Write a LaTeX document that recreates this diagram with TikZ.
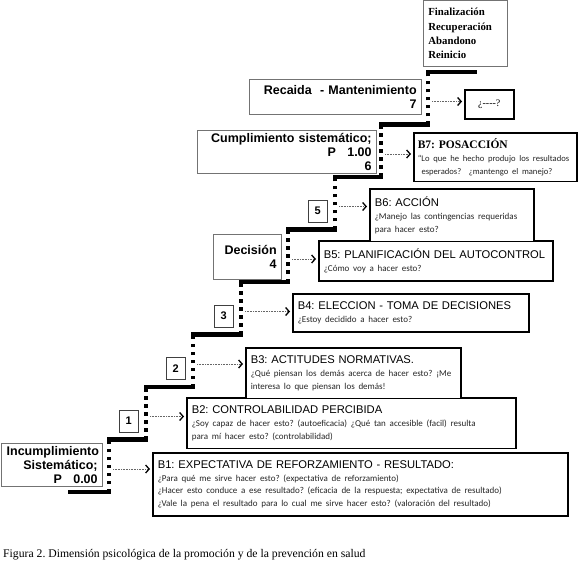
\documentclass[tikz,border=0pt]{standalone}
\usepackage{fontspec}
\setmainfont{Liberation Sans}
\newfontfamily\gillfont{Carlito}
\newfontfamily\romanfont{Liberation Serif}
\usetikzlibrary{arrows.meta,positioning}
\newcommand\qfont{\gillfont\fontsize{9}{12.5}\selectfont\color{black!85}}
\frenchspacing

\begin{document}
\begin{tikzpicture}[x=1pt, y=-1pt,
    stage/.style  = {draw=black!55, line width=0.7pt, fill=white, align=right,
                     inner xsep=5pt, inner ysep=3pt, font=\bfseries\fontsize{12.5}{14}\selectfont},
    numbox/.style = {draw=black!75, line width=0.7pt, fill=white, minimum width=19pt,
                     minimum height=22pt, inner sep=0pt, font=\bfseries\fontsize{11}{13}\selectfont},
    block/.style  = {draw=black, line width=1.6pt, fill=white, align=left, anchor=north west,
                     inner xsep=5pt, inner ysep=8pt, font=\fontsize{11.2}{13}\selectfont},
    tread/.style  = {line width=4.5pt, line cap=rect},
    riser/.style  = {line width=4pt, dash pattern=on 3.5pt off 4.5pt},
    pointer/.style = {draw=black!60, line width=0.6pt, densely dotted, shorten >=2pt,
                     -{Straight Barb[length=3.5pt, width=8pt, line width=1.3pt, black]}}]
    \useasboundingbox (0,0) rectangle (579,567);

    \foreach \xr [count=\k from 0] in {109,146,193,241,288,335,381,428}{
        \pgfmathsetmacro\ylo{492-52.5*\k}
        \coordinate (lo-\k)  at (\xr,\ylo);
        \coordinate (hi-\k)  at (\xr,\ylo-52.5);
        \coordinate (tap-\k) at (\xr+4,\ylo-23);
    }
    \coordinate (foot) at (70,492);
    \coordinate (head) at (475,72);

    \draw[tread] (foot) -- (lo-0);
    \foreach \k [evaluate=\k as \j using int(\k+1)] in {0,...,6}
        \draw[tread] (hi-\k) -- (lo-\j);
    \draw[tread] (hi-7) -- (head);
    \foreach \k in {0,...,7}
        \draw[riser] (lo-\k) -- (hi-\k);

    \node[stage, text width=91pt, anchor=south east]  (incumplimiento) at (103,487)
        {Incumplimiento\\Sistemático;\\P\hspace{0.9em}0.00};
    \node[stage, text width=58pt, minimum height=45pt, anchor=south east] (decision) at (282,280)
        {Decisión\\4};
    \node[stage, text width=169pt, anchor=south east] (cumplimiento) at (377,174)
        {Cumplimiento sistemático;\\P\hspace{0.9em}1.00\\6};
    \node[stage, text width=162pt, minimum height=35pt, anchor=south east] (recaida) at (422,115)
        {Recaida\ \ - Mantenimiento\\7};
    \node[stage, align=left, text width=74pt, minimum height=65.5pt, anchor=north west,
          font=\romanfont\bfseries\fontsize{10.8}{14.4}\selectfont] (cierre) at (423,0.5)
        {Finalización\\Recuperación\\Abandono\\Reinicio};

    \foreach \k in {1,2,3,5}
        \node[numbox, anchor=south east] (step_\k) at ([xshift=-7.5pt, yshift=7pt]lo-\k) {\k};

    \node[block, text width=405pt] (b_1) at (152,452)
        {B1: EXPECTATIVA DE REFORZAMIENTO - RESULTADO:\\
         \qfont ¿Para qué me sirve hacer esto? (expectativa de reforzamiento)\\
         ¿Hacer esto conduce a ese resultado? (eficacia de la respuesta; expectativa de resultado)\\
         ¿Vale la pena el resultado para lo cual me sirve hacer esto? (valoración del resultado)};
    \node[block, text width=319pt] (b_2) at (186,397)
        {B2: CONTROLABILIDAD PERCIBIDA\\
         \qfont ¿Soy capaz de hacer esto? (autoeficacia) ¿Qué tan accesible (facil) resulta\\
         para mí hacer esto? (controlabilidad)};
    \node[block, text width=205pt] (b_3) at (245,347)
        {B3: ACTITUDES NORMATIVAS.\\
         \qfont ¿Qué piensan los demás acerca de hacer esto? ¡Me\\
         interesa lo que piensan los demás!};
    \node[block, text width=226pt] (b_4) at (292,293)
        {B4: ELECCION - TOMA DE DECISIONES\\
         \qfont ¿Estoy decidido a hacer esto?};
    \node[block, text width=224pt] (b_5) at (318,240)
        {B5: PLANIFICACIÓN DEL AUTOCONTROL\\
         \qfont ¿Cómo voy a hacer esto?};
    \node[block, text width=154pt] (b_6) at (369,188)
        {B6: ACCIÓN\\
         \qfont ¿Manejo las contingencias requeridas\\
         para hacer esto?};
    \node[block, text width=155pt, inner xsep=4pt, inner ysep=6pt] (b_7) at (413,132)
        {{\romanfont\bfseries\fontsize{11.5}{13}\selectfont B7: POSACCIÓN}\\
         \qfont\fontsize{8.6}{12.5}\selectfont “Lo que he hecho produjo los resultados\\
         \ esperados?\ \ ¿mantengo el manejo?};
    \node[block, minimum width=49pt, minimum height=29pt, inner ysep=3pt,
          font=\romanfont\fontsize{10}{12}\selectfont] (query) at (464,89) {¿-{}-{}-{}-?};

    \foreach \k/\b in {0/b_1,1/b_2,2/b_3,3/b_4,4/b_5,5/b_6,6/b_7,7/query}
        \draw[pointer] (tap-\k) -- (tap-\k -| \b.west);

    \node[anchor=base west, inner sep=0pt, font=\romanfont\fontsize{11.7}{13}\selectfont] (caption) at (3,557)
        {Figura 2. Dimensión psicológica de la promoción y de la prevención en salud};
\end{tikzpicture}
\end{document}
